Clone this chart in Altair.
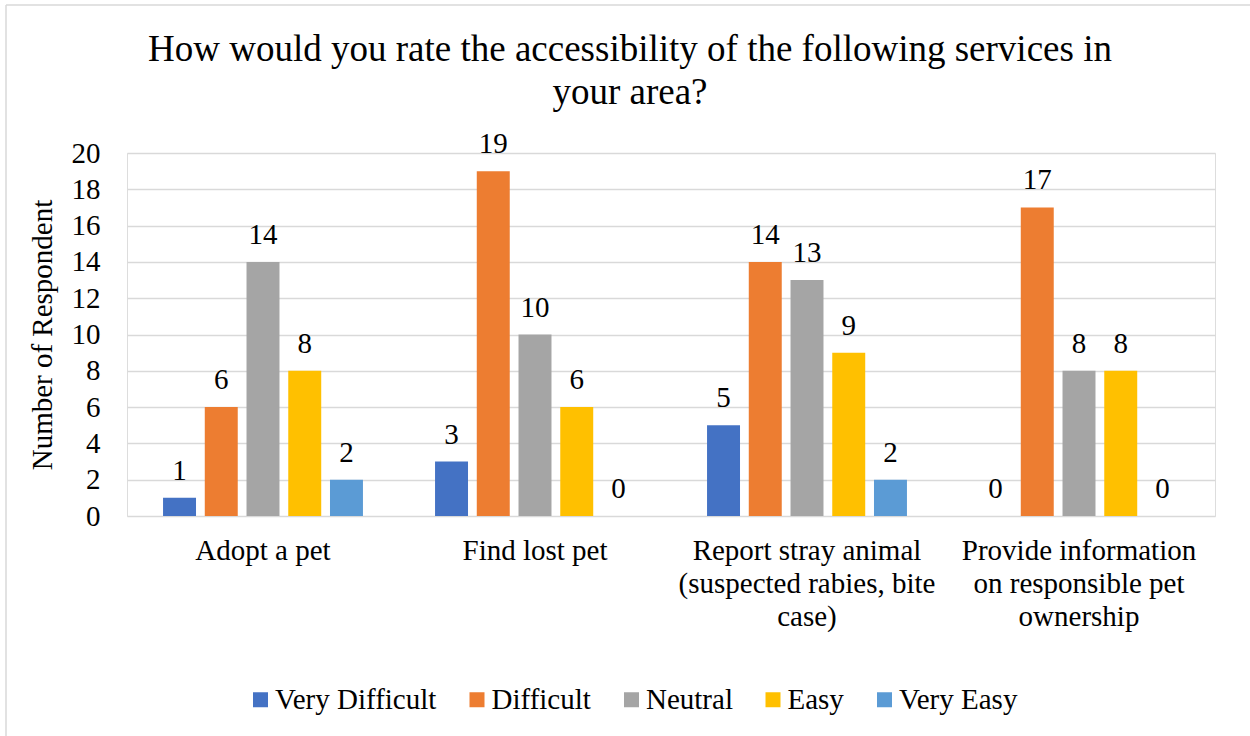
import altair as alt
import pandas as pd

# Survey results: respondents per accessibility rating for each service
services = [
    "Adopt a pet",
    "Find lost pet",
    "Report stray animal\n(suspected rabies, bite\ncase)",
    "Provide information\non responsible pet\nownership",
]
ratings = ["Very Difficult", "Difficult", "Neutral", "Easy", "Very Easy"]
very_difficult = [1, 3, 5, 0]
difficult = [6, 19, 14, 17]
neutral = [14, 10, 13, 8]
easy = [8, 6, 9, 8]
very_easy = [2, 0, 2, 0]
colors = ["#4472C4", "#ED7D31", "#A5A5A5", "#FFC000", "#5B9BD5"]
y_ticks = [0, 2, 4, 6, 8, 10, 12, 14, 16, 18, 20]

series = [very_difficult, difficult, neutral, easy, very_easy]
rows = []
for rating, vals in zip(ratings, series):
    for svc, v in zip(services, vals):
        rows.append({"service": svc, "rating": rating, "count": v})
df = pd.DataFrame(rows)

FONT = "Liberation Serif"
FS = 29
W, H = 1088, 363

x = alt.X(
    "service:N",
    sort=services,
    scale=alt.Scale(paddingInner=0.265, paddingOuter=0.1325),
    axis=alt.Axis(
        title=None,
        labelAngle=0,
        labelExpr="split(datum.label, '\\n')",
        labelFontSize=FS,
        labelLineHeight=33,
        labelPadding=20,
        labelLimit=500,
        labelColor="#000000",
        labelFont=FONT,
        domain=False,
        ticks=False,
        labelBaseline="top",
    ),
)
x_off = alt.XOffset(
    "rating:N", sort=ratings, scale=alt.Scale(paddingInner=0.21, paddingOuter=0)
)
y = alt.Y(
    "count:Q",
    scale=alt.Scale(domain=[0, 20]),
    axis=alt.Axis(
        title="Number of Respondent",
        values=y_ticks,
        tickCount=len(y_ticks),
        titleFontSize=FS,
        titleFont=FONT,
        titleFontWeight="normal",
        titleColor="#000000",
        titlePadding=14,
        labelFontSize=FS,
        labelFont=FONT,
        labelColor="#000000",
        labelPadding=27,
        labelOverlap=False,
        domain=False,
        ticks=False,
        grid=True,
        gridColor="#D9D9D9",
        gridWidth=1.5,
    ),
)
color = alt.Color(
    "rating:N",
    sort=ratings,
    scale=alt.Scale(domain=ratings, range=colors),
    legend=alt.Legend(
        title=None,
        orient="none",
        direction="horizontal",
        legendX=119,
        legendY=532,
        padding=0,
        symbolType="square",
        symbolSize=225,
        symbolStrokeWidth=0,
        labelFontSize=FS,
        labelFont=FONT,
        labelColor="#000000",
        labelLimit=400,
        columnPadding=25.5,
        labelOffset=0,
    ),
)

base = alt.Chart(df).encode(x=x, xOffset=x_off, y=y)

bars = base.mark_bar().encode(color=color)
labels = base.mark_text(
    baseline="alphabetic", dy=-18, fontSize=FS, font=FONT, color="#000000"
).encode(text="count:Q")

# Light frame along the top and left edges of the chart
frame = alt.Chart(alt.Data(values=[{}]))
frame_top = frame.mark_rule(color="#D9D9D9", strokeWidth=1.5).encode(
    x=alt.value(-121), x2=alt.value(1123), y=alt.value(-148)
)
frame_left = frame.mark_rule(color="#D9D9D9", strokeWidth=1.5).encode(
    x=alt.value(-121), y=alt.value(-148), y2=alt.value(583)
)

chart = (
    alt.layer(bars, labels, frame_top, frame_left)
    .properties(
        width=W,
        height=H,
        autosize=alt.AutoSizeParams(type="none"),
        padding={"left": 127, "top": 153, "right": 35, "bottom": 220},
        title=alt.Title(
            ["How would you rate the accessibility of the following services in", "your area?"],
            fontSize=37,
            font=FONT,
            fontWeight="normal",
            color="#000000",
            lineHeight=43,
            anchor="middle",
            frame="group",
            dx=-41,
            offset=-108,
        ),
    )
    .configure_view(stroke=None)
    .configure(background="white")
)

chart.save("out.html", embed_options={"renderer": "svg", "actions": False})
